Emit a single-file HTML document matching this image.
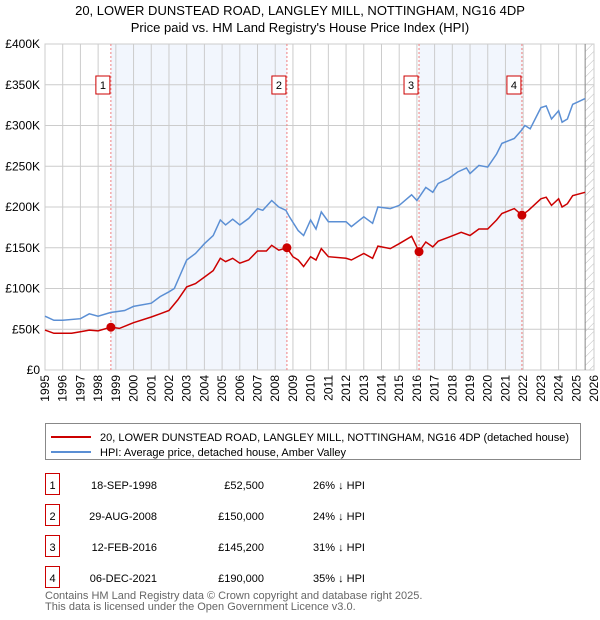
<!DOCTYPE html>
<html><head><meta charset="utf-8"><style>
body{margin:0;background:#fff;font-family:"Liberation Sans","DejaVu Sans",sans-serif;}
svg{display:block}
</style></head><body>
<svg width="600" height="620" xmlns="http://www.w3.org/2000/svg">
<defs><pattern id="hatch" width="6" height="6" patternUnits="userSpaceOnUse" patternTransform="rotate(45)"><line x1="0" y1="0" x2="0" y2="6" stroke="#bbb" stroke-width="1"/></pattern></defs>
<g id="main"></g>
</svg>
<script>
const hpiYears=[1995,1995.5,1996,1997,1997.5,1998,1998.7,1999.5,2000,2001,2001.5,2002,2002.3,2003,2003.5,2004,2004.5,2004.9,2005.2,2005.6,2006,2006.5,2007,2007.3,2007.8,2008.2,2008.6,2008.8,2009.3,2009.6,2010,2010.3,2010.6,2011,2012,2012.3,2013,2013.5,2013.8,2014.5,2015,2015.7,2016,2016.5,2016.9,2017.2,2017.8,2018.3,2018.8,2019,2019.5,2020,2020.5,2020.8,2021.5,2021.9,2022.1,2022.4,2023,2023.3,2023.6,2024,2024.2,2024.5,2024.8,2025,2025.5];
const hpiValues=[66,61,61,63,69,66,70.6,73,78,82,90,96,100,135,143,155,165,184,178,185,178,186,198,196,208,200,196,188,171,165,184,173,194,182,182,176,188,180,200,198,202,215,208,224,218,229,235,243,248,241,251,249,265,278,284,294,300,296,322,324,308,318,304,308,326,328,333];
const priceYears=[1995,1995.5,1996.5,1997,1997.5,1998,1998.72,1999.2,2000,2001,2001.5,2002,2002.5,2003,2003.5,2004,2004.5,2004.9,2005.2,2005.6,2006,2006.5,2007,2007.5,2007.8,2008.2,2008.66,2009,2009.3,2009.6,2010,2010.3,2010.6,2011,2012,2012.3,2013,2013.5,2013.8,2014.5,2015,2015.7,2016.12,2016.5,2016.9,2017.2,2017.8,2018.5,2019,2019.5,2020,2020.5,2020.8,2021.5,2021.93,2022.3,2023,2023.3,2023.6,2024,2024.2,2024.5,2024.8,2025.5];
const priceValues=[49,45,45,47,49,48,52.5,51,58,65,69,73,86,102,106,114,122,137,133,137,131,135,146,146,153,147,150,139,135,127,139,135,149,139,137,135,143,137,152,149,155,164,145.2,157,151,158,163,169,165,173,173,184,192,198,190,196,210,212,202,210,200,204,214,218];
const saleYears=[1998.72,2008.66,2016.12,2021.93];
const saleValues=[52.5,150,145.2,190];
const saleLabels=["1","2","3","4"];
const yTicks=[0,50,100,150,200,250,300,350,400];
const yTickLabels=["£0","£50K","£100K","£150K","£200K","£250K","£300K","£350K","£400K"];
const xTicks=[];for(let y=1995;y<=2026;y++)xTicks.push(y);

const X0=45,X1=594,Y0=370,Y1=44;
const xs=v=>X0+(v-1995)/31*(X1-X0);
const ys=v=>Y0-v/400*(Y0-Y1);
const NS="http://www.w3.org/2000/svg";
const g=document.getElementById('main');
function mk(t,a,p){const e=document.createElementNS(NS,t);for(const k in a)e.setAttribute(k,a[k]);(p||g).appendChild(e);return e;}

let e=mk('text',{x:300,y:15,'text-anchor':'middle','font-size':13,fill:'#000'});e.textContent="20, LOWER DUNSTEAD ROAD, LANGLEY MILL, NOTTINGHAM, NG16 4DP";

e=mk('text',{x:300,y:32,'text-anchor':'middle','font-size':13,fill:'#000'});e.textContent="Price paid vs. HM Land Registry's House Price Index (HPI)";


[[0,1],[2,3]].forEach(([a,b])=>{const r=mk('rect',{x:xs(saleYears[a]),y:Y1,width:xs(saleYears[b])-xs(saleYears[a]),height:Y0-Y1,fill:'#f2f6fd'});
});
e=mk('rect',{x:xs(2025.5),y:Y1,width:X1-xs(2025.5),height:Y0-Y1,fill:'url(#hatch)'});

xTicks.forEach(t=>{const l=mk('line',{x1:xs(t),x2:xs(t),y1:Y1,y2:Y0,stroke:'#ccc','stroke-width':1});

const tx=mk('text',{x:0,y:0,'font-size':12,fill:'#000','text-anchor':'end',transform:`translate(${xs(t)+4},${Y0+5}) rotate(-90)`});tx.textContent=t;
});
yTicks.forEach((t,i)=>{const l=mk('line',{x1:X0,x2:X1,y1:ys(t),y2:ys(t),stroke:'#ccc','stroke-width':1});

const tx=mk('text',{x:40,y:ys(t)+4,'font-size':12,fill:'#000','text-anchor':'end'});tx.textContent=yTickLabels[i];
});
e=mk('rect',{x:X0,y:Y1,width:X1-X0,height:Y0-Y1,fill:'none',stroke:'#ccc'});

e=mk('line',{x1:xs(2025.5),x2:xs(2025.5),y1:Y1,y2:Y0,stroke:'#888','stroke-width':1});

saleYears.forEach((s,i)=>{const l=mk('line',{x1:xs(s),x2:xs(s),y1:Y1,y2:Y0,stroke:'#f08080','stroke-width':1,'stroke-dasharray':'2,2'});

const r=mk('rect',{x:xs(s)-15,y:76,width:14,height:18,fill:'#fff',stroke:'#c00'});

const t=mk('text',{x:xs(s)-8,y:89,'font-size':11,'text-anchor':'middle',fill:'#000'});t.textContent=saleLabels[i];
});
function pts(xa,va){return xa.map((x,i)=>xs(x).toFixed(1)+','+ys(va[i]).toFixed(1)).join(' ');}
e=mk('polyline',{points:pts(hpiYears,hpiValues),fill:'none',stroke:'#5b8fd4','stroke-width':1.5});

e=mk('polyline',{points:pts(priceYears,priceValues),fill:'none',stroke:'#cc0000','stroke-width':1.5});

saleYears.forEach((s,i)=>{const c=mk('circle',{cx:xs(s),cy:ys(saleValues[i]),r:4.5,fill:'#cc0000'});
});

e=mk('rect',{x:45.5,y:423.5,width:535,height:36,fill:'#fff',stroke:'#888'});

e=mk('line',{x1:51,x2:91,y1:437,y2:437,stroke:'#cc0000','stroke-width':2});

e=mk('text',{x:100,y:441,'font-size':11,fill:'#000'});e.textContent="20, LOWER DUNSTEAD ROAD, LANGLEY MILL, NOTTINGHAM, NG16 4DP (detached house)";

e=mk('line',{x1:51,x2:91,y1:452,y2:452,stroke:'#5b8fd4','stroke-width':2});

e=mk('text',{x:100,y:456,'font-size':11,fill:'#000'});e.textContent="HPI: Average price, detached house, Amber Valley";


const rows=[["1","18-SEP-1998","£52,500","26% ↓ HPI"],["2","29-AUG-2008","£150,000","24% ↓ HPI"],["3","12-FEB-2016","£145,200","31% ↓ HPI"],["4","06-DEC-2021","£190,000","35% ↓ HPI"]];
rows.forEach((r,i)=>{const y=487+i*31;
let b=mk('rect',{x:45.5,y:y-13.5,width:14,height:21,fill:'#fff',stroke:'#c00'});

let t=mk('text',{x:52.5,y:y+2,'font-size':11,'text-anchor':'middle'});t.textContent=r[0];

t=mk('text',{x:157,y:y+2,'font-size':11,'text-anchor':'end'});t.textContent=r[1];

t=mk('text',{x:264,y:y+2,'font-size':11,'text-anchor':'end'});t.textContent=r[2];

t=mk('text',{x:313,y:y+2,'font-size':11});t.textContent=r[3];
});
e=mk('text',{x:45,y:599,'font-size':11,fill:'#666'});e.textContent="Contains HM Land Registry data © Crown copyright and database right 2025.";

e=mk('text',{x:45,y:610,'font-size':11,fill:'#666'});e.textContent="This data is licensed under the Open Government Licence v3.0.";

</script>
</body></html>
